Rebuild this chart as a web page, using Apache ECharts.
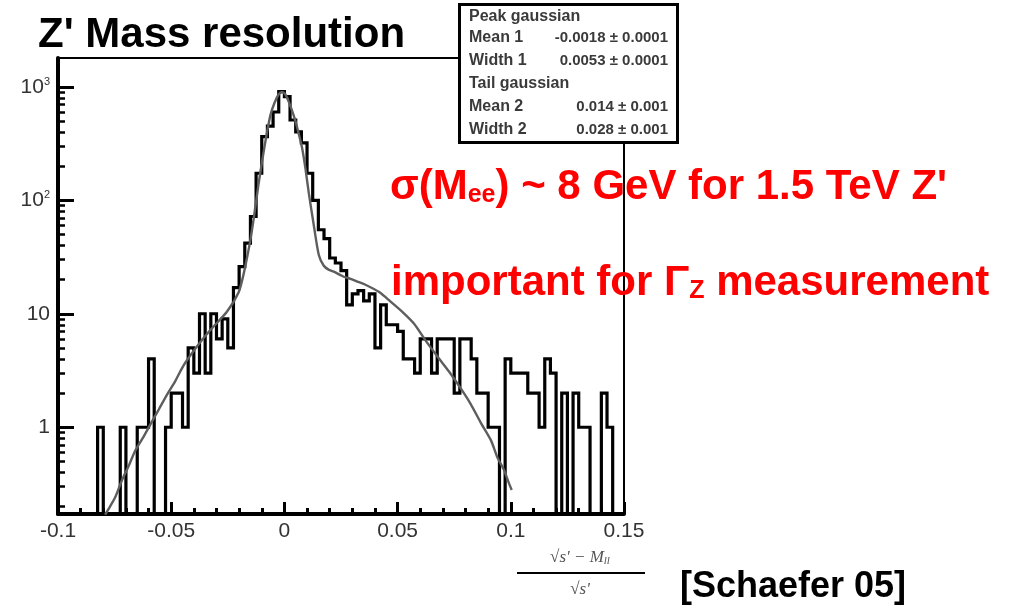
<!DOCTYPE html>
<html><head><meta charset="utf-8">
<script src="https://cdn.jsdelivr.net/npm/echarts@6/dist/echarts.min.js"></script>
<style>html,body{margin:0;padding:0;background:#fff}#c{width:1018px;height:613px}</style>
</head><body><div id="c"></div>
<script>
// ---- data ----
const X_MIN = -0.1, X_MAX = 0.15, BIN_WIDTH = 0.0025;
const COUNTS = [
  0, 0, 0, 0, 0, 0, 0, 1, 0, 0,
  0, 1, 0, 0, 1, 1, 4, 0, 0, 1,
  2, 2, 1, 5, 3, 10, 3, 10, 6, 9,
  5, 17, 26, 42, 72, 173, 364, 450, 600, 907,
  818, 510, 400, 320, 173, 100, 55, 46, 31, 28,
  24, 12, 15, 16, 13, 15, 5, 12, 8, 8,
  7, 4, 4, 3, 6, 6, 3, 6, 6, 6,
  2, 6, 6, 4, 2, 2, 1, 1, 0, 4,
  3, 3, 3, 2, 2, 1, 4, 3, 0, 2,
  0, 2, 1, 1, 0, 0, 2, 1, 0, 0
];
const FIT_X = [-0.0792,-0.0777,-0.0748,-0.0718,-0.0689,-0.0659,-0.0623,-0.0593,-0.0556,-0.0519,-0.0482,-0.0460,-0.0438,-0.0372,-0.0327,-0.0254,-0.0202,-0.0181,-0.0164,-0.0150,-0.0133,-0.0114,-0.0097,-0.0084,-0.0062,-0.0044,-0.0025,-0.0010,0.0004,0.0019,0.0041,0.0056,0.0078,0.0093,0.0108,0.0130,0.0152,0.0174,0.0195,0.0218,0.0262,0.0292,0.0322,0.0351,0.0417,0.0469,0.0521,0.0572,0.0624,0.0676,0.0727,0.0779,0.0823,0.0867,0.0912,0.0941,0.0970,0.0992,0.1004];
const FIT_Y = [0.17,0.19,0.24,0.34,0.45,0.62,0.82,1.05,1.42,1.93,2.55,3.1,3.7,5.6,7.2,10.4,15.5,22,32,45,75,140,230,330,560,720,860,900,860,740,560,440,290,190,115,60,33,26.5,24.5,23.5,21.2,20.3,19.2,18.3,15.6,12.8,10.4,8.2,5.8,4.2,3.1,2.2,1.6,1.1,0.77,0.54,0.42,0.32,0.28];
const Y_MIN = 0.172, Y_MAX = 1794;
const Y_MAJOR = [1, 10, 100, 1000];
const Y_MINOR = [0.2,0.3,0.4,0.5,0.6,0.7,0.8,0.9, 2,3,4,5,6,7,8,9, 20,30,40,50,60,70,80,90, 200,300,400,500,600,700,800,900];
const X_INTERVAL = 0.05;
const TITLE = "Z' Mass resolution";
const STATS_ROWS = [
  ['Peak gaussian', ''],
  ['Mean 1', '-0.0018 \u00b1 0.0001'],
  ['Width 1', '0.0053 \u00b1 0.0001'],
  ['Tail gaussian', ''],
  ['Mean 2', '0.014 \u00b1 0.001'],
  ['Width 2', '0.028 \u00b1 0.001']
];
const NOTE1 = ['\u03c3(M', 'ee', ') ~ 8 GeV for 1.5 TeV Z\''];
const NOTE2 = ['important for \u0393', 'Z', ' measurement'];
const CITE = '[Schaefer 05]';

// ---- build series data ----
const ZERO_FLOOR = 0.02;
const histPts = [];
COUNTS.forEach((c, k) => {
  const v = c > 0 ? c : ZERO_FLOOR;
  const x0 = X_MIN + k * BIN_WIDTH;
  histPts.push([x0, v], [x0 + BIN_WIDTH, v]);
});
const fitPts = FIT_X.map((x, i) => [x, FIT_Y[i]]);

const FF = '"Liberation Sans", Arial, sans-serif';
const chart = echarts.init(document.getElementById('c'), null, {renderer: 'canvas'});

const statsGraphics = [];
const statY = [17, 38, 61, 84, 107, 130];
STATS_ROWS.forEach((r, i) => {
  statsGraphics.push({type: 'text', x: 469, y: statY[i], z: 101,
    style: {text: r[0], font: 'bold 16px ' + FF, fill: '#3a3a3a', verticalAlign: 'middle', align: 'left'}});
  if (r[1]) statsGraphics.push({type: 'text', x: 668, y: statY[i], z: 101,
    style: {text: r[1], font: 'bold 15px ' + FF, fill: '#3a3a3a', verticalAlign: 'middle', align: 'right'}});
});

const redRich = {
  n: {fontSize: 42, fontWeight: 'bold', fontFamily: FF, fill: '#ff0000'},
  s: {fontSize: 25, fontWeight: 'bold', fontFamily: FF, fill: '#ff0000', verticalAlign: 'bottom', lineHeight: 12}
};

chart.setOption({
  animation: false,
  backgroundColor: '#fff',
  grid: {left: 58, top: 58, width: 566, height: 456, show: true, borderColor: '#000', borderWidth: 2,
         containLabel: false, outerBoundsMode: 'none'},
  xAxis: {
    type: 'value', min: X_MIN, max: X_MAX, interval: X_INTERVAL, position: 'bottom',
    axisLine: {show: true, onZero: false, lineStyle: {color: '#000', width: 4}},
    axisTick: {show: true, inside: true, length: 12, lineStyle: {color: '#000', width: 3}},
    minorTick: {show: true, splitNumber: 5, length: 6, lineStyle: {color: '#000', width: 3}},
    axisLabel: {fontFamily: FF, fontSize: 21, color: '#333', margin: 7,
      formatter: v => String(+(+v).toFixed(3))},
    splitLine: {show: false}, minorSplitLine: {show: false}
  },
  yAxis: [{
    type: 'log', logBase: 10, min: Y_MIN, max: Y_MAX, position: 'left',
    axisLine: {show: true, onZero: false, lineStyle: {color: '#000', width: 4}},
    axisTick: {show: true, inside: true, length: 16, lineStyle: {color: '#000', width: 3}, customValues: Y_MAJOR},
    axisLabel: {customValues: Y_MAJOR, fontFamily: FF, fontSize: 21, color: '#333', margin: 8,
      formatter: v => { const e = Math.round(Math.log10(v)); return e >= 2 ? '{b|10}{p|' + e + '}' : String(Math.round(v)); },
      rich: {b: {fontFamily: FF, fontSize: 21, color: '#333'},
             p: {fontFamily: FF, fontSize: 11, color: '#333', verticalAlign: 'top', lineHeight: 12}}},
    splitLine: {show: false}, minorTick: {show: false}
  }, {
    type: 'log', logBase: 10, min: Y_MIN, max: Y_MAX, position: 'left', offset: 0,
    axisLine: {show: false, onZero: false},
    axisTick: {show: true, inside: true, length: 7, lineStyle: {color: '#000', width: 2.5}, customValues: Y_MINOR},
    axisLabel: {show: false}, splitLine: {show: false}, minorTick: {show: false}
  }],
  series: [{
    type: 'line', data: histPts, xAxisIndex: 0, yAxisIndex: 0, symbol: 'none', clip: true, z: 3,
    lineStyle: {color: '#000', width: 3.2, join: 'miter', cap: 'square'}
  }, {
    type: 'line', data: fitPts, xAxisIndex: 0, yAxisIndex: 0, symbol: 'none', clip: true, smooth: 0.25, z: 4,
    lineStyle: {color: '#5e5e5e', width: 2.4}
  }],
  graphic: [
    {type: 'text', x: 38, y: 35, z: 100, style: {text: TITLE, font: 'bold 42px ' + FF, fill: '#000', verticalAlign: 'middle'}},
    {type: 'rect', z: 100, shape: {x: 459.5, y: 4.5, width: 218, height: 138}, style: {fill: '#fff', stroke: '#000', lineWidth: 3}},
    ...statsGraphics,
    {type: 'text', x: 390, y: 187, z: 100, style: {text: '{n|' + NOTE1[0] + '}{s|' + NOTE1[1] + '}{n|' + NOTE1[2] + '}', rich: redRich, verticalAlign: 'middle'}},
    {type: 'text', x: 391, y: 283, z: 100, style: {text: '{n|' + NOTE2[0] + '}{s|' + NOTE2[1] + '}{n|' + NOTE2[2] + '}', rich: redRich, verticalAlign: 'middle'}},
    {type: 'text', x: 580, y: 558, z: 100, style: {text: '{a|\u221As\' \u2212 M}{s|ll}', align: 'center', verticalAlign: 'middle',
      rich: {a: {fontSize: 17, fontStyle: 'italic', fontFamily: '"Liberation Serif", serif', fill: '#555'},
             s: {fontSize: 11, fontStyle: 'italic', fontFamily: '"Liberation Serif", serif', fill: '#555', verticalAlign: 'bottom', lineHeight: 8}}}},
    {type: 'line', z: 100, shape: {x1: 517, y1: 573, x2: 645, y2: 573}, style: {stroke: '#000', lineWidth: 2}},
    {type: 'text', x: 580, y: 590, z: 100, style: {text: '\u221As\'', align: 'center', verticalAlign: 'middle', font: 'italic 17px "Liberation Serif", serif', fill: '#555'}},
    {type: 'text', x: 680, y: 587, z: 100, style: {text: CITE, font: 'bold 36px ' + FF, fill: '#000', verticalAlign: 'middle'}}
  ]
});
</script></body></html>
